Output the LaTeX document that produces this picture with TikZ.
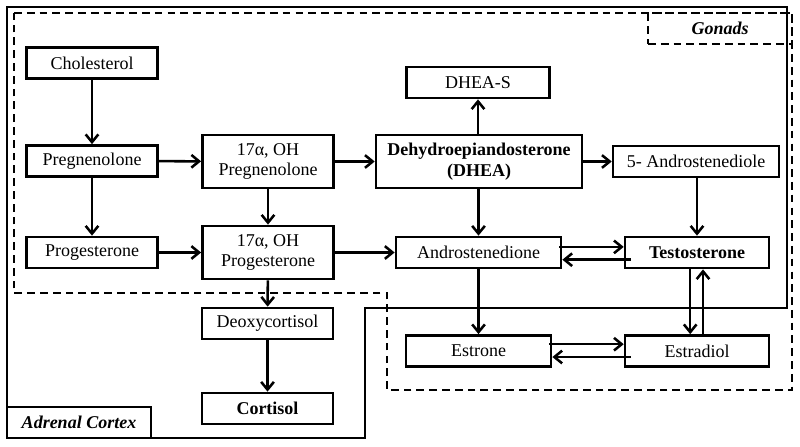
\documentclass[tikz,border=0pt]{standalone}
\usepackage{fontspec}
\setmainfont{Liberation Serif}
\usepackage{tikz}
\usetikzlibrary{arrows.meta,positioning}

\begin{document}
\begin{tikzpicture}[
			x = 0.025cm, y = -0.025cm,
			>={Straight Barb[length=5.5pt,width=9pt,line width=1.8pt]},
			every node/.style = {font=\fontsize{12.8}{14.6}\selectfont},
			box/.style = {draw, line width=1.8pt, inner sep=0pt, align=center, minimum width=3.28cm, minimum height=0.78cm},
			tall/.style = {box, minimum height=1.33cm},
			link/.style = {->, line width=1.8pt},
			region/.style = {line width=1.8pt},
			gonad/.style = {line width=1.8pt, dash pattern=on 5.5pt off 3.6pt}
		]

			\useasboundingbox (0,0) rectangle (800,446);

			% tissue borders
			\draw[region] (7,7) -- (787,7) -- (787,308) -- (365,308) -- (365,438) -- (7,438) -- cycle;
			\draw[gonad] (14,13) -- (792,13) -- (792,390) -- (387,390) -- (387,293) -- (14,293) -- cycle;
			\node[box, minimum width=3.6cm, font=\fontsize{12.8}{14.6}\selectfont\bfseries\itshape] (adrenal) at (79,422.5) {Adrenal Cortex};
			\node[box, gonad, minimum width=3.6cm, font=\fontsize{12.8}{14.6}\selectfont\bfseries\itshape] (gonads) at (720,28.5) {Gonads};

			% steroids
			\node[box] (chol) at (92,63) {Cholesterol};
			\node[box] (preg) at (92,161) {Pregnenolone};
			\node[box] (prog) at (92,252.5) {Progesterone};
			\node[tall] (ohpreg) at (268,161.5) {17α, OH\\Pregnenolone};
			\node[tall] (ohprog) at (268,252.5) {17α, OH\\Progesterone};
			\node[tall, minimum width=5.15cm, font=\fontsize{12.8}{14.6}\selectfont\bfseries] (dhea) at (479,161.5) {Dehydroepiandosterone\\(DHEA)};
			\node[box, minimum width=3.58cm] (dheas) at (478,82.5) {DHEA-S};
			\node[box, minimum width=4.15cm] (adiol) at (696,161.5) {5- Androstenediole};
			\node[box, minimum width=4.13cm] (andro) at (478.5,252.5) {Androstenedione};
			\node[box, minimum width=3.6cm, font=\fontsize{12.8}{14.6}\selectfont\bfseries] (testo) at (697,252.5) {Testosterone};
			\node[box] (deoxy) at (267.5,323.5) {Deoxycortisol};
			\node[box, font=\fontsize{12.8}{14.6}\selectfont\bfseries] (cort) at (267.5,408.5) {Cortisol};
			\node[box, minimum width=3.63cm] (estrone) at (478.5,351) {Estrone};
			\node[box, minimum width=3.6cm] (estradiol) at (697,351) {Estradiol};

			% conversions
			\draw[link] (chol) -- (preg);
			\draw[link] (preg) -- (prog);
			\draw[link] (preg) -- (ohpreg);
			\draw[link] (prog) -- (ohprog);
			\draw[link] (ohpreg) -- (ohprog);
			\draw[link] (ohpreg) -- (dhea);
			\draw[link] (ohprog) -- (andro);
			\draw[link] (ohprog) -- (deoxy);
			\draw[link] (deoxy) -- (cort);
			\draw[link] (dhea.north -| dheas) -- (dheas);
			\draw[link] (dhea) -- (adiol);
			\draw[link] (dhea.south -| andro) -- (andro);
			\draw[link] (adiol.south -| testo) -- (testo);
			\draw[link] (andro) -- (estrone);
			\draw[link] ([yshift=0.14cm,xshift=-0.08cm]andro.east) -- ([yshift=0.14cm]testo.west);
			\draw[link] ([yshift=-0.18cm,xshift=0.17cm]testo.west) -- ([yshift=-0.18cm]andro.east);
			\draw[link] ([xshift=-0.17cm]testo.south) -- ([xshift=-0.17cm]estradiol.north);
			\draw[link] ([xshift=0.15cm]estradiol.north) -- ([xshift=0.15cm]testo.south);
			\draw[link] ([yshift=0.17cm,xshift=-0.08cm]estrone.east) -- ([yshift=0.17cm]estradiol.west);
			\draw[link] ([yshift=-0.15cm,xshift=0.17cm]estradiol.west) -- ([yshift=-0.15cm]estrone.east);

		\end{tikzpicture}
\end{document}
